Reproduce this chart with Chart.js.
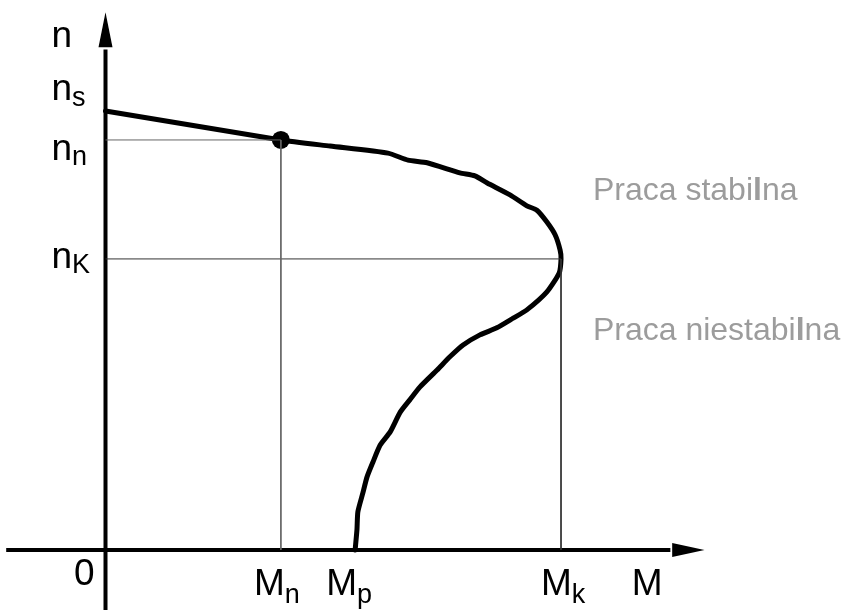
<!DOCTYPE html>
<html>
<head>
<meta charset="utf-8">
<script src="https://cdn.jsdelivr.net/npm/chart.js@4"></script>
<style>
html,body{margin:0;padding:0;background:#fff;}
#wrap{width:843px;height:610px;position:relative;}
</style>
</head>
<body>
<div id="wrap"><canvas id="c" width="843" height="610"></canvas></div>
<script>
// Torque (M, % of Mk) and speed (n, % of ns) along the characteristic
const torqueM = [0, 38.5, 49.3, 62.0, 66.4, 70.6, 77.8, 81.1, 83.8, 88.8, 92.5, 94.7, 96.9, 98.7, 99.8, 100.0, 99.6, 96.9, 92.5, 89.5, 85.9, 82.2, 78.5, 75.6, 72.8, 69.0, 66.8, 64.7, 62.5, 60.3, 58.7, 57.4, 56.5, 55.4, 55.2, 54.8];
const speedN  = [100, 93.4, 92.0, 90.4, 88.8, 88.2, 85.9, 85.2, 83.6, 80.9, 78.4, 77.4, 74.7, 71.8, 68.3, 66.3, 63.1, 58.8, 54.7, 52.8, 50.6, 49.0, 46.7, 44.0, 41.0, 37.1, 34.2, 31.4, 26.9, 23.9, 20.0, 16.6, 13.0, 8.7, 4.6, 0];

// Characteristic values
const Mn = 38.5, Mp = 54.8, Mk = 100;
const ns = 100, nn = 93.4, nK = 66.3;

// Text
const axisLabelN = 'n';
const axisLabelM = 'M';
const originLabel = '0';
const regionLabels = ['Praca stabilna', 'Praca niestabilna'];

const curve = torqueM.map((m, i) => ({x: m, y: speedN[i]}));

const MAIN_FONT = '37px "Liberation Sans", Arial, sans-serif';
const SUB_FONT = '27px "Liberation Sans", Arial, sans-serif';

function subLabel(ctx, main, sub, x, y, subDy) {
  ctx.font = MAIN_FONT;
  ctx.fillText(main, x, y);
  const w = ctx.measureText(main).width;
  ctx.font = SUB_FONT;
  ctx.fillText(sub, x + w, y + subDy);
}

// gray label where the letter "l" appears heavier, as in the reference
function grayLabel(ctx, text, x, y) {
  const reg = '32px "Liberation Sans", Arial, sans-serif';
  const bold = 'bold 32px "Liberation Sans", Arial, sans-serif';
  let cx = x;
  for (const ch of text) {
    ctx.font = ch === 'l' ? bold : reg;
    ctx.fillText(ch, cx, y);
    cx += ctx.measureText(ch).width;
  }
}

const drawPlugin = {
  id: 'diagram',
  beforeDatasetsDraw(chart) {
    const ctx = chart.ctx;
    const xs = chart.scales.x, ys = chart.scales.y;
    const x0 = xs.getPixelForValue(0), y0 = ys.getPixelForValue(0);
    ctx.save();
    ctx.strokeStyle = '#000';
    ctx.fillStyle = '#000';
    ctx.lineWidth = 4;
    // x axis
    ctx.beginPath();
    ctx.moveTo(xs.getPixelForValue(-21.8), y0);
    ctx.lineTo(xs.getPixelForValue(124), y0);
    ctx.stroke();
    const tipX = xs.getPixelForValue(131.5);
    const baseX = xs.getPixelForValue(124.4);
    ctx.beginPath();
    ctx.moveTo(tipX, y0);
    ctx.lineTo(baseX, y0 - 7);
    ctx.lineTo(baseX, y0 + 7);
    ctx.closePath();
    ctx.fill();
    // y axis
    ctx.beginPath();
    ctx.moveTo(x0, ys.getPixelForValue(ys.min));
    ctx.lineTo(x0, ys.getPixelForValue(114));
    ctx.stroke();
    const tipY = ys.getPixelForValue(122.5);
    const baseY = ys.getPixelForValue(114.5);
    ctx.beginPath();
    ctx.moveTo(x0, tipY);
    ctx.lineTo(x0 - 7, baseY);
    ctx.lineTo(x0 + 7, baseY);
    ctx.closePath();
    ctx.fill();
    ctx.restore();
  },
  afterDatasetsDraw(chart) {
    const ctx = chart.ctx;
    const xs = chart.scales.x, ys = chart.scales.y;
    const x0 = xs.getPixelForValue(0), y0 = ys.getPixelForValue(0);
    ctx.save();
    ctx.fillStyle = '#000';
    ctx.textBaseline = 'alphabetic';
    ctx.textAlign = 'left';
    const lx = x0 - 54;
    ctx.font = MAIN_FONT;
    ctx.fillText(axisLabelN, lx, ys.getPixelForValue(ns) - 64);
    subLabel(ctx, 'n', 's', lx, ys.getPixelForValue(ns) - 11, 6);
    subLabel(ctx, 'n', 'n', lx, ys.getPixelForValue(nn) + 20, 5);
    subLabel(ctx, 'n', 'K', lx, ys.getPixelForValue(nK) + 9, 5);
    const by = y0 + 45;
    subLabel(ctx, 'M', 'n', xs.getPixelForValue(Mn) - 27, by, 8);
    subLabel(ctx, 'M', 'p', xs.getPixelForValue(Mp) - 29, by, 8);
    subLabel(ctx, 'M', 'k', xs.getPixelForValue(Mk) - 20, by, 8);
    ctx.font = MAIN_FONT;
    ctx.fillText(axisLabelM, xs.getPixelForValue(115.5), by);
    ctx.textAlign = 'right';
    ctx.fillText(originLabel, x0 - 11, y0 + 35);
    ctx.textAlign = 'left';
    ctx.fillStyle = '#9c9c9c';
    grayLabel(ctx, regionLabels[0], xs.getPixelForValue(107), ys.getPixelForValue(79.7));
    grayLabel(ctx, regionLabels[1], xs.getPixelForValue(107), ys.getPixelForValue(47.8));
    ctx.restore();
  }
};

const thin = (pts, color) => ({
  type: 'line', data: pts, borderColor: color, borderWidth: 1,
  pointRadius: 0, tension: 0, fill: false
});

new Chart(document.getElementById('c'), {
  type: 'scatter',
  data: {
    datasets: [
      thin([{x: 0, y: nn}, {x: Mn, y: nn}, {x: Mn, y: 0}], '#666'),
      thin([{x: 0, y: nK}, {x: Mk, y: nK}, {x: Mk, y: 0}], '#333'),
      {
        type: 'line', data: curve, borderColor: '#000', borderWidth: 5,
        pointRadius: 0, tension: 0.2, fill: false,
        borderJoinStyle: 'round', borderCapStyle: 'round'
      },
      {
        type: 'scatter', data: [{x: Mn, y: nn}], backgroundColor: '#000',
        borderColor: '#000', pointRadius: 9, borderWidth: 0
      }
    ]
  },
  options: {
    responsive: false,
    animation: false,
    layout: {padding: 0, autoPadding: false},
    plugins: {legend: {display: false}, tooltip: {enabled: false}},
    scales: {
      x: {type: 'linear', display: false, min: -23.16, max: 161.9},
      y: {type: 'linear', display: false, min: -13.67, max: 125.28}
    }
  },
  plugins: [drawPlugin]
});
</script>
</body>
</html>
